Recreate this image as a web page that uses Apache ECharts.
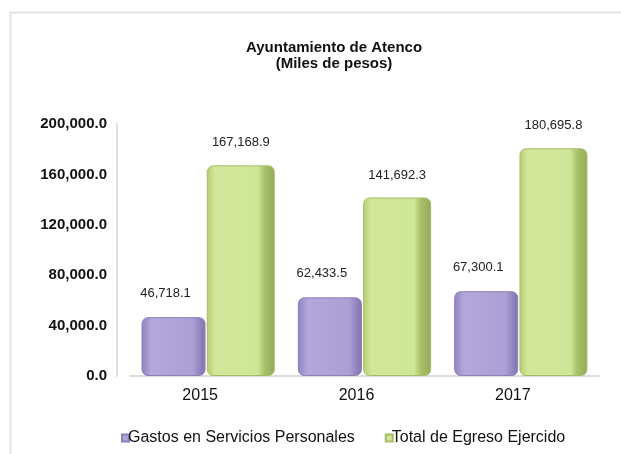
<!DOCTYPE html>
<html><head><meta charset="utf-8">
<script src="https://cdn.jsdelivr.net/npm/echarts@6/dist/echarts.min.js"></script>
<style>html,body{margin:0;padding:0;background:#fff}#c{width:621px;height:454px}</style>
</head><body><div id="c"></div>
<script>
var categories = ['2015', '2016', '2017'];
var gastosServicios = [46718.1, 62433.5, 67300.1];
var totalEgreso = [167168.9, 141692.3, 180695.8];
var seriesNames = ['Gastos en Servicios Personales', 'Total de Egreso Ejercido'];
var titleText = 'Ayuntamiento de Atenco';
var subtitleText = '(Miles de pesos)';

function fmt(v) {
  return Number(v).toLocaleString('en-US', {minimumFractionDigits: 1, maximumFractionDigits: 1});
}
var chart = echarts.init(document.getElementById('c'));
chart.setOption({
  backgroundColor: '#ffffff',
  animation: false,
  graphic: [{
    type: 'rect', left: 8, top: 10, shape: {width: 620, height: 460},
    style: {fill: 'none', stroke: '#e4e4e4', lineWidth: 2}, silent: true, z: -1
  }],
  title: {
    text: titleText, subtext: subtitleText, left: 334, top: 40, textAlign: 'center',
    textStyle: {fontFamily: 'Liberation Sans, Arial', fontSize: 15, fontWeight: 'bold', color: '#111'},
    subtextStyle: {fontFamily: 'Liberation Sans, Arial', fontSize: 15, fontWeight: 'bold', color: '#111'},
    itemGap: 1,
    padding: 0
  },
  legend: {
    data: seriesNames, bottom: 3, left: 116, itemGap: 30,
    icon: 'rect', itemWidth: 7, itemHeight: 7,
    textStyle: {fontFamily: 'Liberation Sans, Arial', fontSize: 16, color: '#111', padding: [0,0,0,-6]}
  },
  grid: {left: 130, right: 22, top: 124, bottom: 78},
  xAxis: {
    type: 'category', data: categories,
    axisLine: {lineStyle: {color: '#dcdcdc', width: 2}},
    axisTick: {show: false},
    axisLabel: {fontFamily: 'Liberation Sans, Arial', fontSize: 16, color: '#111', margin: 12, padding: [0, 16, 0, 0]}
  },
  yAxis: {
    type: 'value', min: 0, max: 200000, interval: 40000, offset: 13,
    axisLine: {show: true, lineStyle: {color: '#e0e0e0', width: 2}},
    axisTick: {show: false},
    splitLine: {show: false},
    axisLabel: {formatter: fmt, fontFamily: 'Liberation Sans, Arial', fontSize: 15, fontWeight: 'bold', color: '#111', margin: 10}
  },
  series: [{
    name: seriesNames[0], type: 'bar', data: gastosServicios, barWidth: 64, barGap: '2%',
    itemStyle: {
      borderRadius: 6,
      color: new echarts.graphic.LinearGradient(0, 0, 1, 0, [
        {offset: 0, color: '#8f81bf'}, {offset: 0.15, color: '#b3a7dc'},
        {offset: 0.8, color: '#ab9fd6'}, {offset: 1, color: '#7f71ad'}]),
      borderColor: '#8c7fb8', borderWidth: 1
    },
    label: {show: true, position: 'top', distance: 17, offset: [-8, 0], formatter: function(p){return fmt(p.value);},
      fontFamily: 'Liberation Sans, Arial', fontSize: 13, color: '#222'}
  }, {
    name: seriesNames[1], type: 'bar', data: totalEgreso, barWidth: 68,
    itemStyle: {
      borderRadius: 6,
      color: new echarts.graphic.LinearGradient(0, 0, 1, 0, [
        {offset: 0, color: '#b2cd72'}, {offset: 0.12, color: '#d2e79a'},
        {offset: 0.75, color: '#cfe597'}, {offset: 0.85, color: '#a9c168'}, {offset: 1, color: '#93a95a'}]),
      borderColor: '#a6bd67', borderWidth: 1
    },
    label: {show: true, position: 'top', distance: 16, formatter: function(p){return fmt(p.value);},
      fontFamily: 'Liberation Sans, Arial', fontSize: 13, color: '#222'}
  }],
  color: ['#a99bd3', '#c6df8c']
});
</script></body></html>
